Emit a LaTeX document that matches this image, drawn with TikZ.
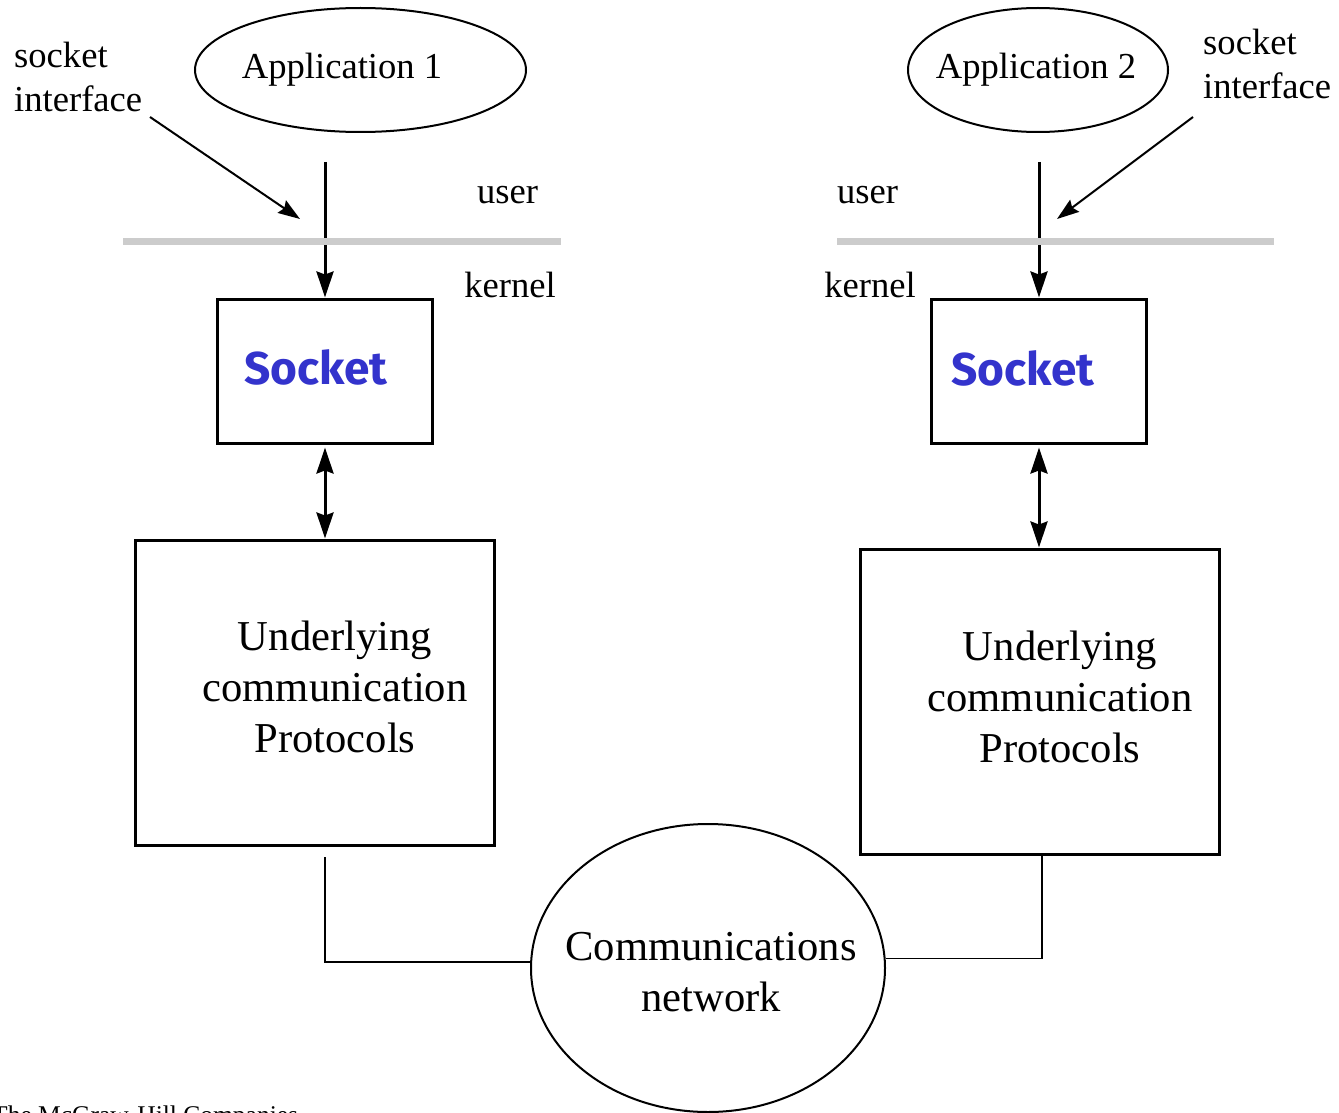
\documentclass[tikz,border=0pt]{standalone}
\usepackage{fontspec}
\setmainfont{Liberation Serif}
\newfontfamily\sockfont{Fira Sans}
\usetikzlibrary{shapes.geometric,arrows.meta}
\definecolor{sockblue}{RGB}{51,51,204}
\definecolor{bargray}{RGB}{204,204,204}
\begin{document}
\begin{tikzpicture}[x=1pt,y=-1pt,
  lbl/.style={font=\fontsize{36.6}{44}\selectfont, inner sep=0pt, align=left},
  big/.style={font=\fontsize{42.6}{51}\selectfont, inner sep=0pt, align=center},
  appell/.style={ellipse, draw, line width=2pt, inner sep=0pt},
  box/.style={rectangle, draw, line width=3pt, inner sep=0pt},
  socktxt/.style={font=\sockfont\bfseries\fontsize{46}{46}\selectfont, text=sockblue, inner sep=0pt},
  arr/.style={line width=3pt, -{Stealth[length=26pt,width=17pt,inset=3pt]}},
  darr/.style={line width=3pt, {Stealth[length=26pt,width=17pt,inset=3pt]}-{Stealth[length=26pt,width=17pt,inset=3pt]}},
  thinarr/.style={line width=2pt, -{Stealth[length=22pt,width=15pt,inset=3pt]}},
  conn/.style={line width=1.5pt},
  graybar/.style={draw=bargray, line width=7pt}
]
\useasboundingbox (0,0) rectangle (1339,1113);

% applications
\node[appell, minimum width=331pt, minimum height=124pt] (app1) at (360.5,70) {};
\node[lbl] (app1t) at (342,70) {Application 1};
\node[appell, minimum width=260pt, minimum height=124pt] (app2) at (1038,70) {};
\node[lbl] (app2t) at (1036,70) {Application 2};

% socket interface labels
\node[lbl, anchor=north west] (si1) at (14,42) {socket\\interface};
\node[lbl, anchor=north west] (si2) at (1203,29) {socket\\interface};

% user / kernel
\node[lbl, anchor=base] (user1) at (507.5,204) {user};
\node[lbl, anchor=base] (kern1) at (510,297) {kernel};
\node[lbl, anchor=base] (user2) at (867.5,204) {user};
\node[lbl, anchor=base] (kern2) at (870,297) {kernel};

% socket boxes
\node[box, minimum width=215pt, minimum height=144pt] (sock1) at (325,371) {};
\node[socktxt] (sock1t) at (316,367) {Socket};
\node[box, minimum width=215pt, minimum height=144pt] (sock2) at (1039,371) {};
\node[socktxt] (sock2t) at (1023,368) {Socket};

% protocol boxes
\node[box, minimum width=359pt, minimum height=305pt] (proto1) at (314.5,692.5) {};
\node[big] (proto1t) at (335,687) {Underlying\\communication\\Protocols};
\node[box, minimum width=359pt, minimum height=305pt] (proto2) at (1039.5,701.5) {};
\node[big] (proto2t) at (1060,697) {Underlying\\communication\\Protocols};

% network
\node[appell, minimum width=354pt, minimum height=288pt] (net) at (708,968) {};
\node[big] (nett) at (711,972) {Communications\\network};

% footer (cut off by the lower edge, as in the original)
\node[font=\fontsize{25.5}{25.5}\selectfont, anchor=base west, inner sep=0pt] (foot) at (-8,1123) {The McGraw-Hill Companies};

% coordinates
\coordinate (a1s) at (325,162);
\coordinate (a2s) at (1039,162);
\coordinate (si1s) at (150,117);
\coordinate (si1e) at (300,219);
\coordinate (si2s) at (1193,117);
\coordinate (si2e) at (1057,219);
\coordinate (c1) at (325,857);
\coordinate (c2) at (1042,856);

% arrows
\draw[arr] (a1s) -- (sock1.north);
\draw[arr] (a2s) -- (sock2.north);
\draw[thinarr] (si1s) -- (si1e);
\draw[thinarr] (si2s) -- (si2e);
\draw[darr, shorten <=3pt] (sock1.south) -- (sock1.south |- proto1.north);
\draw[darr, shorten <=3pt] (sock2.south) -- (sock2.south |- proto2.north);

% connectors
\draw[conn] (c1) |- (net.178);
\draw[conn] (c2) |- (net.3.6);

% user/kernel boundary bars
\draw[graybar] (123,241) -- (561,241);
\draw[graybar] (837,241) -- (1274,241);
\end{tikzpicture}
\end{document}
